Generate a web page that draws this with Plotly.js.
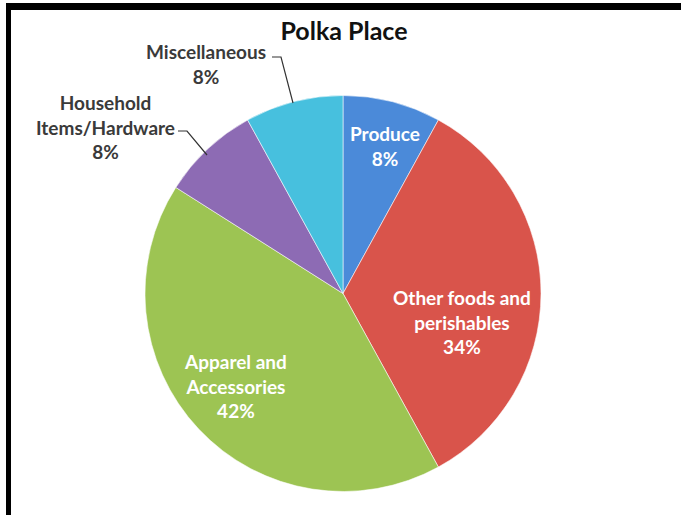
<!DOCTYPE html>
<html>
<head>
<meta charset="utf-8">
<script src="https://cdn.plot.ly/plotly-3.0.1.min.js"></script>
<style>html,body{margin:0;padding:0;background:#fff;}#chart{width:681px;height:515px;}</style>
</head>
<body>
<div id="chart"></div>
<script>
// Data
const categories = ["Produce", "Other foods and perishables", "Apparel and Accessories", "Household Items/Hardware", "Miscellaneous"];
const displayNames = ["Produce", "Other foods and<br>perishables", "Apparel and<br>Accessories", "Household<br>Items/Hardware", "Miscellaneous"];
const shares = [8, 34, 42, 8, 8];
const sliceColors = ["#4B8AD9", "#D9544B", "#9DC453", "#8D6BB4", "#47C0DE"];
const chartTitle = "Polka Place";

const W = 681, H = 515;
const px = x => x / W;
const py = y => 1 - y / H;

const FONT = "Lato, 'Open Sans', sans-serif";

const trace = {
  type: "pie",
  labels: categories,
  values: shares,
  sort: false,
  direction: "clockwise",
  rotation: 0,
  textinfo: "none",
  hoverinfo: "label+percent",
  marker: { colors: sliceColors, line: { color: "rgba(255,255,255,0.55)", width: 1 } },
  domain: { x: [px(145), px(541)], y: [py(492), py(95)] },
  showlegend: false
};

// label placement (layout only)
const labelPos = [
  { x: 385, y: 146, color: "#ffffff" },
  { x: 462, y: 322, color: "#ffffff" },
  { x: 236, y: 386, color: "#ffffff" },
  { x: 106, y: 127, color: "#3a3a3a" },
  { x: 206, y: 64, color: "#3a3a3a" }
];

const annotations = categories.map((c, i) => ({
  xref: "paper", yref: "paper",
  x: px(labelPos[i].x), y: py(labelPos[i].y),
  xanchor: "center", yanchor: "middle",
  align: "center",
  showarrow: false,
  text: "<b>" + displayNames[i] + "<br>" + shares[i] + "%</b>",
  font: { family: FONT, size: 19, color: labelPos[i].color }
}));

const shapes = [
  // frame
  { type: "rect", xref: "paper", yref: "paper", x0: px(6), x1: 1, y0: py(10), y1: py(3), fillcolor: "#000", line: { width: 0 } },
  { type: "rect", xref: "paper", yref: "paper", x0: px(6), x1: px(11), y0: 0, y1: py(3), fillcolor: "#000", line: { width: 0 } },
  // leader lines
  { type: "path", xref: "paper", yref: "paper",
    path: `M ${px(272)},${py(57)} L ${px(281)},${py(57)} L ${px(293)},${py(103)}`,
    line: { color: "#333", width: 1.2 } },
  { type: "path", xref: "paper", yref: "paper",
    path: `M ${px(178)},${py(131)} L ${px(187)},${py(131)} L ${px(207)},${py(155)}`,
    line: { color: "#333", width: 1.2 } }
];

const layout = {
  width: W, height: H,
  margin: { l: 0, r: 0, t: 0, b: 0 },
  paper_bgcolor: "#ffffff",
  title: {
    text: "<b>" + chartTitle + "</b>",
    x: px(344), y: py(31), xref: "paper", yref: "paper",
    xanchor: "center", yanchor: "middle",
    font: { family: FONT, size: 25, color: "#111" }
  },
  annotations: annotations,
  shapes: shapes
};

Plotly.newPlot("chart", [trace], layout, { displayModeBar: false, staticPlot: true });
</script>
</body>
</html>
